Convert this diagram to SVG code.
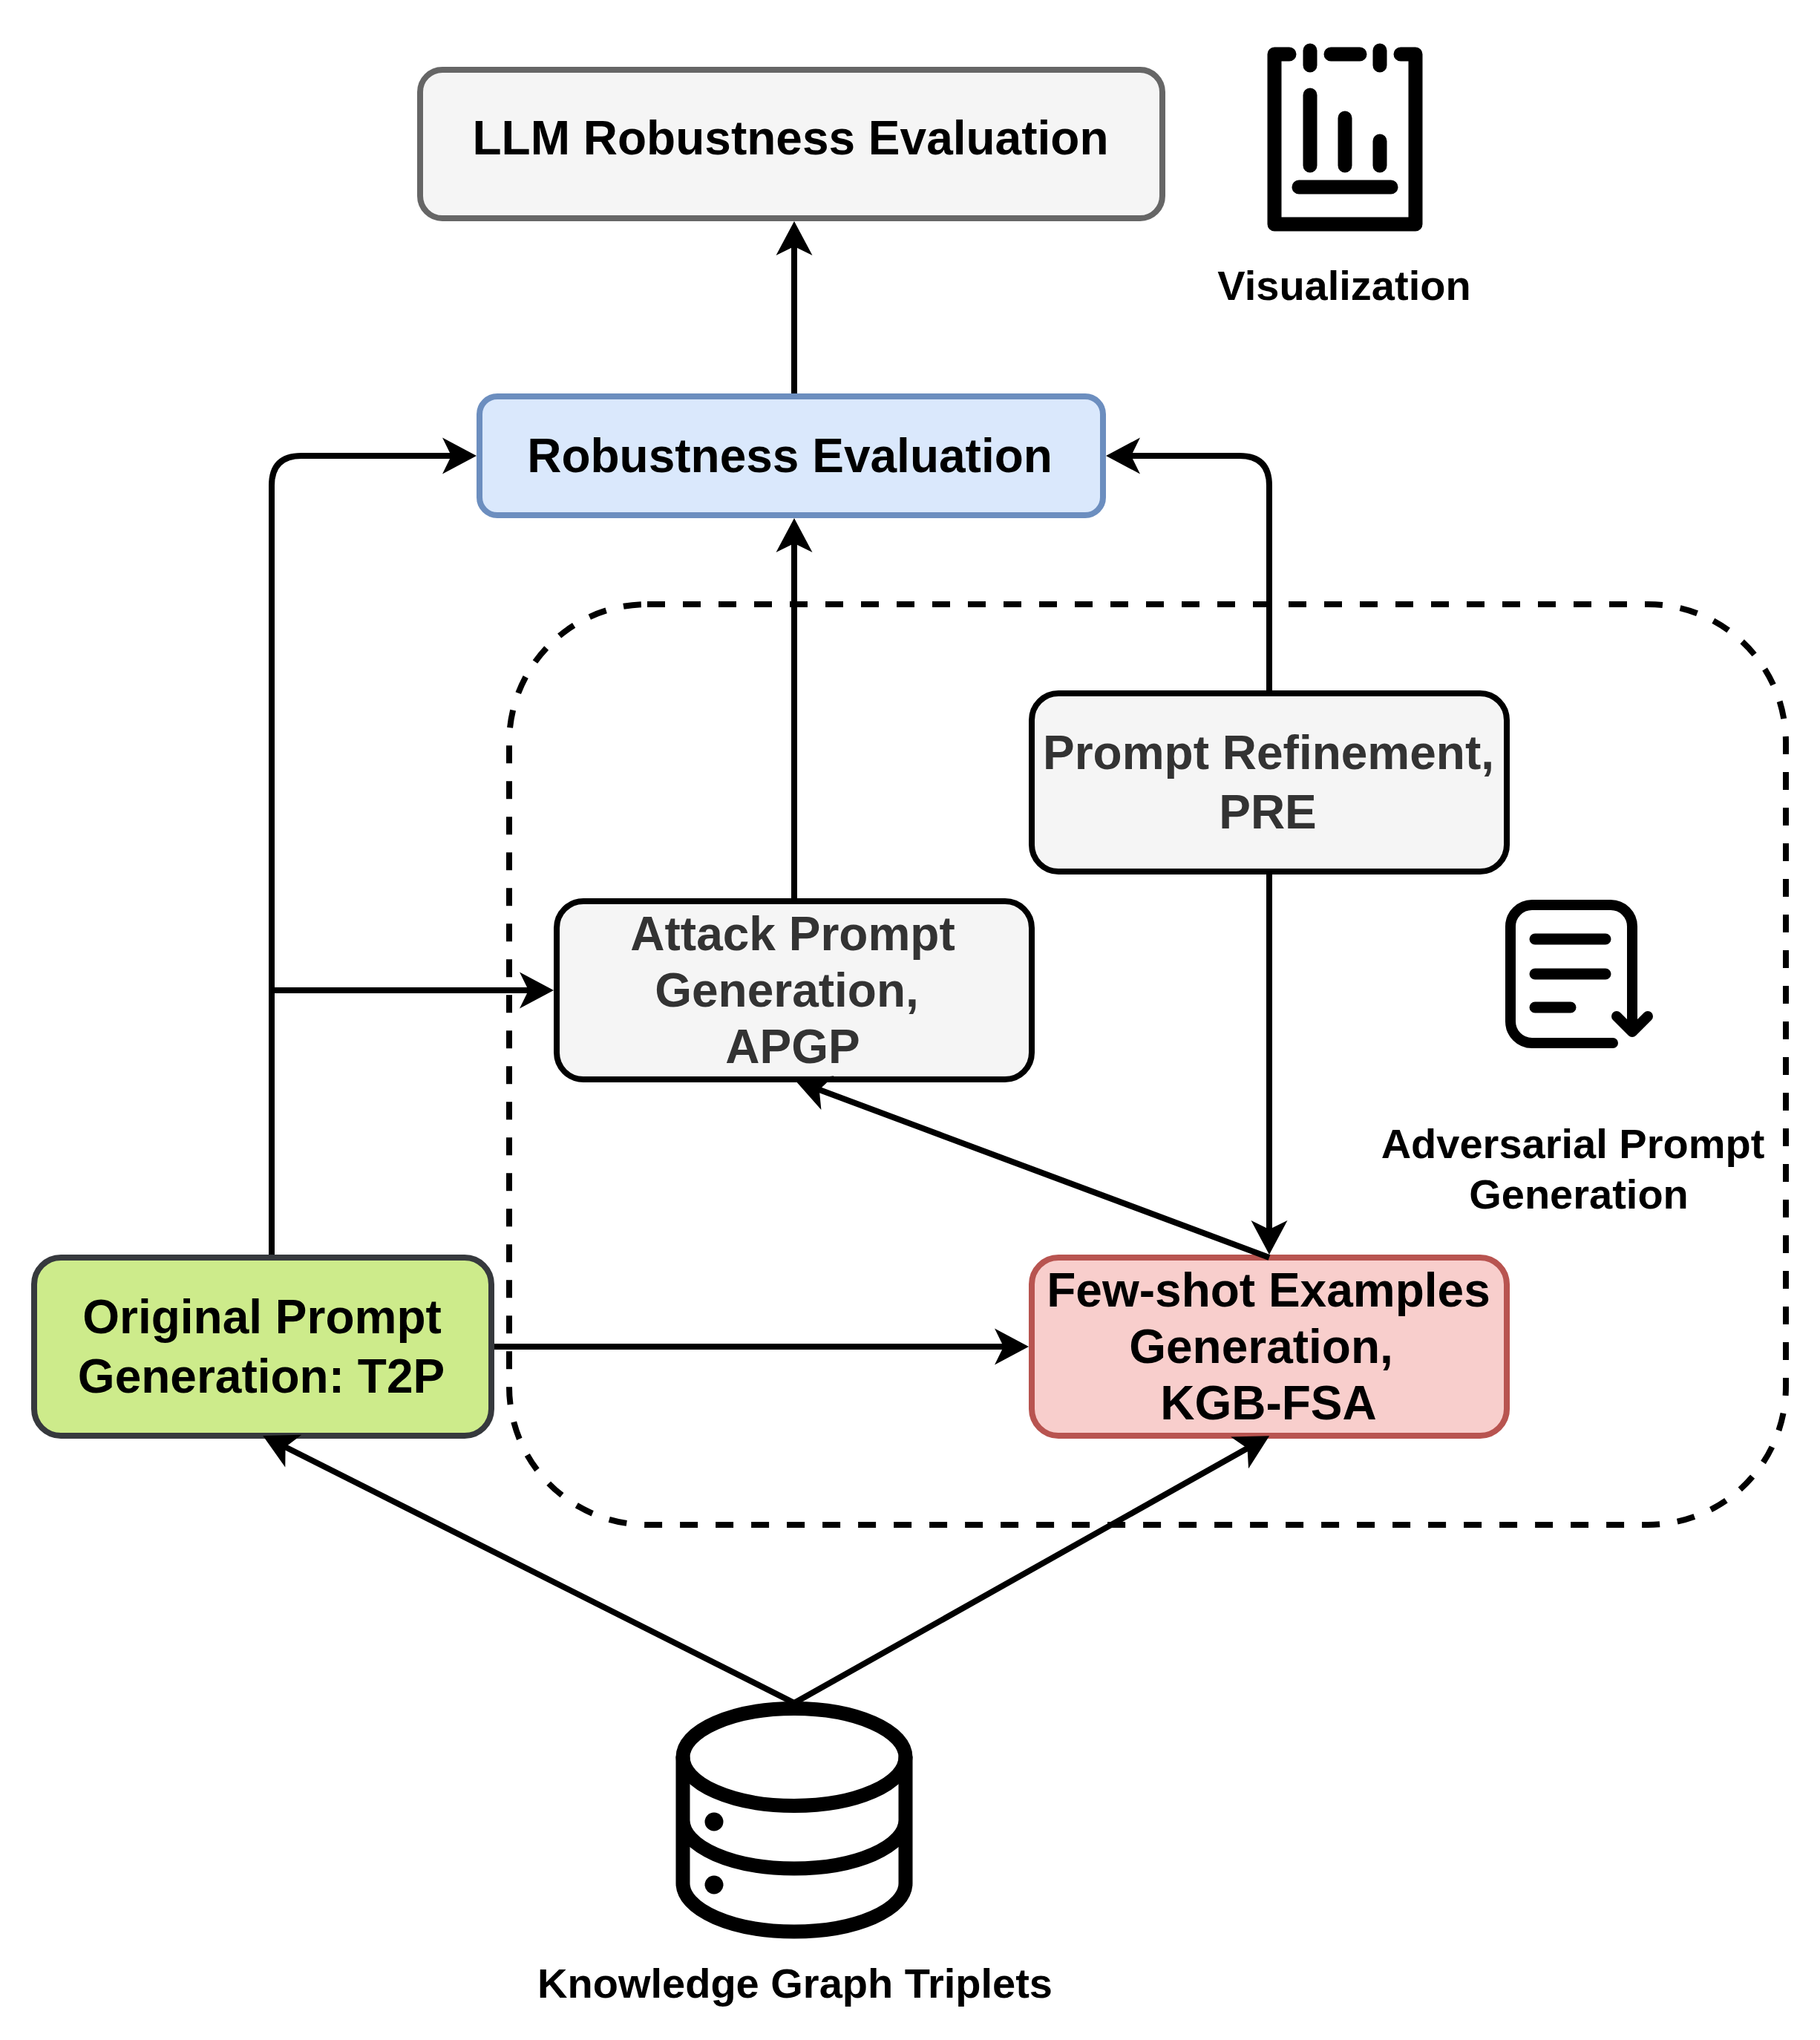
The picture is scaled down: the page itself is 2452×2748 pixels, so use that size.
<svg xmlns="http://www.w3.org/2000/svg" width="2452" height="2748" viewBox="0 0 2452 2748">
<style>
text{font-family:"Liberation Sans",Arial,sans-serif;font-weight:700;text-anchor:middle;fill:#000}
.b{font-size:64px}.c{font-size:56px}
text.d{fill:#333}
.box{stroke-width:8}
.ln{fill:none;stroke:#000;stroke-width:8;marker-end:url(#ah)}
.ic{fill:none;stroke:#000;stroke-linecap:round;stroke-linejoin:round}
</style>
<defs><marker id="ah" markerUnits="userSpaceOnUse" markerWidth="60" markerHeight="60" refX="16" refY="30" orient="auto" overflow="visible"><path d="M46 30 L0 5.500 L12 30 L0 54.500Z" fill="#000"/></marker></defs>
<rect width="2452" height="2748" fill="#fff"/>
<g id="group-adversarial"><rect x="686" y="814" width="1720" height="1240" rx="186" fill="none" stroke="#000" stroke-width="8" stroke-dasharray="24 24"/></g>
<g id="llm"><rect class="box" x="566" y="94" width="1000" height="200" rx="30" fill="#f5f5f5" stroke="#666"/><text class="b" x="1065" y="208">LLM Robustness Evaluation</text></g>
<g id="robustness"><rect class="box" x="646" y="534" width="840" height="160" rx="24" fill="#dae8fc" stroke="#6c8ebf"/><text class="b" x="1064" y="636">Robustness Evaluation</text></g>
<g id="prompt-refinement"><rect class="box" x="1390" y="934" width="640" height="240" rx="36" fill="#f5f5f5" stroke="#000"/><text class="b d" x="1709" y="1036">Prompt Refinement,</text><text class="b d" x="1708" y="1116">PRE</text></g>
<g id="attack"><rect class="box" x="750" y="1214" width="640" height="240" rx="36" fill="#f5f5f5" stroke="#000"/><text class="b d" x="1068" y="1280">Attack Prompt</text><text class="b d" x="1060" y="1356">Generation,</text><text class="b d" x="1068" y="1432">APGP</text></g>
<g id="few-shot"><rect class="box" x="1390" y="1694" width="640" height="240" rx="36" fill="#f8cecc" stroke="#b85450"/><text class="b" x="1709" y="1760">Few-shot Examples</text><text class="b" x="1699" y="1836">Generation,</text><text class="b" x="1709" y="1912">KGB-FSA</text></g>
<g id="original"><rect class="box" x="46" y="1694" width="616" height="240" rx="36" fill="#cdeb8b" stroke="#36393d"/><text class="b" x="353" y="1796">Original Prompt</text><text class="b" x="352" y="1876">Generation: T2P</text></g>
<g id="connectors">
<path class="ln" d="M1070 530V328"/>
<path class="ln" d="M1070 1210V728"/>
<path class="ln" d="M1710 930V654Q1710 614 1670 614H1520"/>
<path class="ln" d="M1710 1178V1660"/>
<path class="ln" d="M1710 1694L1100 1466.500"/>
<path class="ln" d="M366 1690V654Q366 614 406 614H612"/>
<path class="ln" d="M366 1334H716"/>
<path class="ln" d="M666 1814H1356"/>
<path class="ln" d="M1070 2294L381 1947.500"/>
<path class="ln" d="M1070 2294L1684 1949"/>
</g>
<g id="visualization"><g class="ic" stroke-width="19">
<path d="M1737 73H1717V302H1907V73H1887"/><path d="M1765 68V88M1793 73H1832M1859 68V88M1765 128V223M1812 159V223M1859 190V223M1750 252H1874"/></g>
<text class="c" x="1811" y="404">Visualization</text></g>
<g id="adversarial-label"><g class="ic" stroke-width="14">
<path d="M2173 1405H2064A29 29 0 0 1 2035 1376V1248A29 29 0 0 1 2064 1219H2170A29 29 0 0 1 2199 1248V1390M2178 1369L2199 1390L2220 1369"/><path stroke-width="15" d="M2068 1265H2163M2068 1312H2163M2068 1357H2116"/></g>
<text class="c" x="2119" y="1560">Adversarial Prompt</text><text class="c" x="2127" y="1628">Generation</text></g>
<g id="knowledge"><g class="ic" stroke-width="19"><ellipse cx="1070" cy="2367" rx="150" ry="65.500"/><path d="M920 2367V2537A150 65 0 0 0 1220 2537V2367M920 2452A150 65 0 0 0 1220 2452"/></g>
<circle cx="962" cy="2454" r="12.500"/><circle cx="962" cy="2539" r="12.500"/>
<text class="c" x="1071" y="2691">Knowledge Graph Triplets</text></g>
</svg>
